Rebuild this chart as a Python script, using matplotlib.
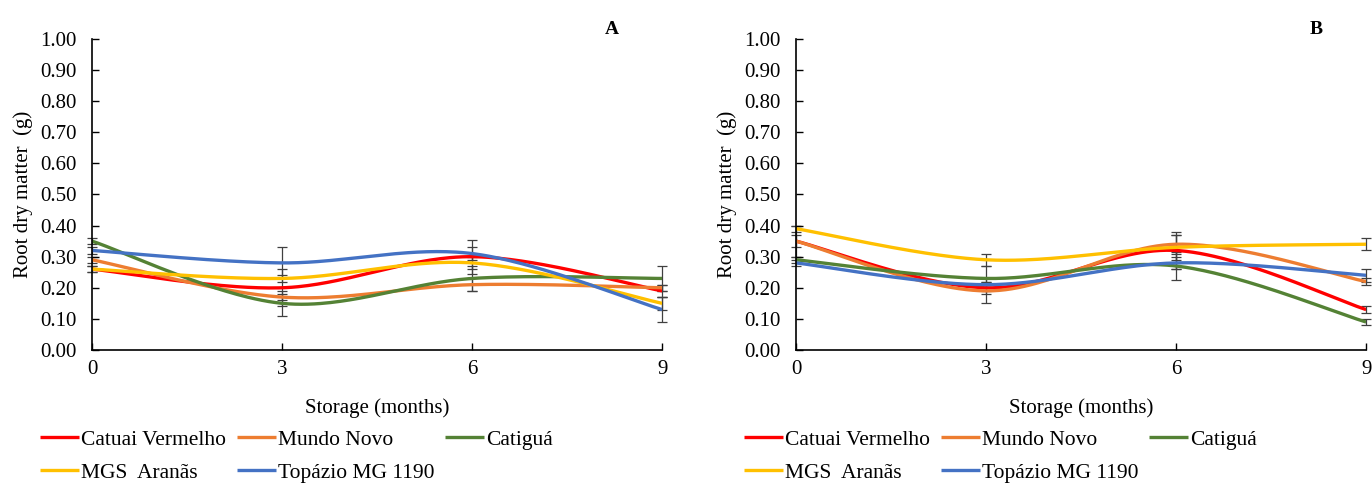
import numpy as np
import matplotlib
matplotlib.use("Agg")
import matplotlib.pyplot as plt

plt.rcParams['font.family'] = ['Liberation Serif', 'DejaVu Serif']

months = [0, 3, 6, 9]
names = ['Catuai Vermelho', 'Mundo Novo', 'Catiguá', 'MGS  Aranãs', 'Topázio MG 1190']
colors = ['#FF0000', '#ED7D31', '#548235', '#FFC000', '#4472C4']

# panel A
a_red = [0.26, 0.20, 0.30, 0.19]
a_orange = [0.29, 0.17, 0.21, 0.20]
a_green = [0.35, 0.15, 0.23, 0.23]
a_yellow = [0.26, 0.23, 0.28, 0.15]
a_blue = [0.32, 0.28, 0.31, 0.13]
a_err_red = [0.01, 0.06, 0.055, 0.02]
a_err_orange = [0.01, 0.01, 0.02, 0.01]
a_err_green = [0.01, 0.04, 0.04, 0.04]
a_err_yellow = [0.01, 0.01, 0.02, 0.02]
a_err_blue = [0.01, 0.05, 0.02, 0.04]

# panel B
b_red = [0.35, 0.20, 0.32, 0.13]
b_orange = [0.35, 0.19, 0.34, 0.22]
b_green = [0.29, 0.23, 0.27, 0.09]
b_yellow = [0.39, 0.29, 0.33, 0.34]
b_blue = [0.28, 0.21, 0.28, 0.24]
b_err_red = [0.05, 0.02, 0.06, 0.01]
b_err_orange = [0.02, 0.04, 0.03, 0.01]
b_err_green = [0.01, 0.04, 0.045, 0.01]
b_err_yellow = [0.01, 0.02, 0.04, 0.02]
b_err_blue = [0.01, 0.01, 0.02, 0.02]

panels = [
    ('A', [a_red, a_orange, a_green, a_yellow, a_blue],
     [a_err_red, a_err_orange, a_err_green, a_err_yellow, a_err_blue]),
    ('B', [b_red, b_orange, b_green, b_yellow, b_blue],
     [b_err_red, b_err_orange, b_err_green, b_err_yellow, b_err_blue]),
]


def smooth(x, y, n=60):
    # Excel-style smoothed line (Catmull-Rom bezier)
    x = np.asarray(x, float)
    y = np.asarray(y, float)
    px = np.concatenate([[x[0]], x, [x[-1]]])
    py = np.concatenate([[y[0]], y, [y[-1]]])
    t = np.linspace(0, 1, n)
    xs, ys = [], []
    for i in range(1, len(px) - 2):
        p0 = np.array([px[i], py[i]])
        p3 = np.array([px[i + 1], py[i + 1]])
        c1 = p0 + (p3 - np.array([px[i - 1], py[i - 1]])) / 6
        c2 = p3 - (np.array([px[i + 2], py[i + 2]]) - p0) / 6
        b = ((1 - t) ** 3)[:, None] * p0 + (3 * (1 - t) ** 2 * t)[:, None] * c1 \
            + (3 * (1 - t) * t ** 2)[:, None] * c2 + (t ** 3)[:, None] * p3
        xs.append(b[:, 0])
        ys.append(b[:, 1])
    return np.concatenate(xs), np.concatenate(ys)


fig = plt.figure(figsize=(13.72, 4.83), dpi=100)
lefts = [0.0671, 0.5802]

for (label, series, errs), left in zip(panels, lefts):
    ax = fig.add_axes([left, 0.2754, 0.4155, 0.6439])
    handles = []
    for vals, err, c, nm in zip(series, errs, colors, names):
        ax.errorbar(months, vals, yerr=err, fmt='none', ecolor='#404040',
                    elinewidth=0.9, capsize=3.5, capthick=0.9, zorder=1, clip_on=False)
        sx, sy = smooth(months, vals)
        h, = ax.plot(sx, sy, color=c, lw=2.4, label=nm, zorder=2, solid_capstyle='butt')
        handles.append(h)
    ax.set_xlim(0, 9)
    ax.set_ylim(0, 1.0)
    ax.set_xticks(months)
    ax.set_yticks(np.arange(0, 1.01, 0.1))
    ax.set_yticklabels(['%.2f' % v for v in np.arange(0, 1.01, 0.1)])
    for s in ['top', 'right']:
        ax.spines[s].set_visible(False)
    ax.spines['left'].set_linewidth(1.2)
    ax.spines['bottom'].set_linewidth(1.2)
    ax.tick_params(direction='in', length=5, width=1, labelsize=15)
    ax.tick_params(axis='y', pad=11)
    ax.tick_params(axis='x', pad=7)
    ax.set_xlabel('Storage (months)', fontsize=15, labelpad=14)
    ax.set_ylabel('Root dry matter  (g)', fontsize=15, labelpad=5)
    ax.text(0.912, 1.03, label, transform=ax.transAxes, fontsize=14,
            fontweight='bold', ha='center', va='center')
    order = [0, 3, 1, 4, 2]
    ax.legend([handles[i] for i in order], [names[i] for i in order],
              ncol=3, frameon=False, loc='upper left',
              bbox_to_anchor=(-0.106, -0.228), fontsize=15.5,
              handlelength=1.8, handletextpad=0.1, columnspacing=0.5,
              labelspacing=0.62, borderaxespad=0)

fig.savefig('out.png', dpi=100)
